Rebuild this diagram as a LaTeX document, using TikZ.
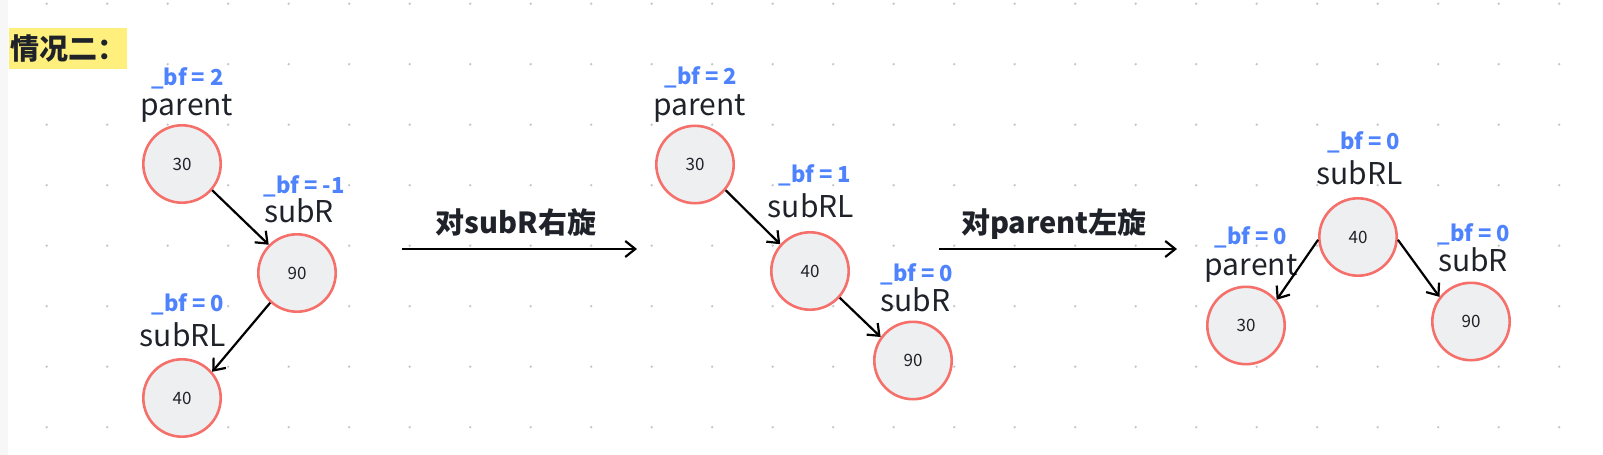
\documentclass[tikz,border=0pt]{standalone}
\usepackage{fontspec}
\setmainfont{Noto Sans CJK SC}
\usepackage{xcolor}
\usepackage{tikz}
\usetikzlibrary{arrows.meta}
\definecolor{inkdark}{HTML}{1F2329}
\definecolor{bfblue}{HTML}{4E83FD}
\definecolor{ringred}{HTML}{F5706A}
\definecolor{ringfill}{HTML}{EEEFF1}
\definecolor{hiyellow}{HTML}{FFF07E}
\definecolor{dotgray}{HTML}{C4C6CC}
\tikzset{
  treenode/.style={circle, draw=ringred, line width=1.3pt, fill=ringfill, minimum size=38.7pt,
    inner sep=0pt, text=inkdark, font=\fontsize{8.5}{10}\selectfont},
  bflabel/.style={anchor=base, inner sep=0pt, text=bfblue, font=\fontsize{11}{13}\selectfont\bfseries},
  namelabel/.style={anchor=base, inner sep=0pt, text=inkdark, font=\fontsize{15}{18}\selectfont},
  rotlabel/.style={anchor=base, inner sep=0pt, text=inkdark, font=\fontsize{14.5}{17}\selectfont\bfseries},
  edge/.style={-{Straight Barb[length=5pt,width=8pt]}, line width=1.1pt, black},
}

\begin{document}
\begin{tikzpicture}[x=0.5pt,y=-0.5pt]
\useasboundingbox (0,0) rectangle (1603,455);
\fill[black!3] (0,0) rectangle (8,455);
\foreach \i in {0,...,25}{
  \foreach \j in {0,...,7}{
    \fill[dotgray] (46.7+60.5*\i,3.7+60.5*\j) circle (0.65pt);
  }
}
\node[fill=hiyellow, inner xsep=0.5pt, inner ysep=0pt, minimum height=20.5pt, anchor=west,
  text=inkdark, font=\fontsize{14.5}{17}\selectfont\bfseries] (title) at (9,48.5) {情况二：};

% before rotation
\node[treenode] (a30) at (182,164) {30};
\node[treenode] (a90) at (297,273) {90};
\node[treenode] (a40) at (182,398) {40};
\node[bflabel] (a30bf) at (187.5,85) {\_bf = 2};
\node[namelabel] (a30name) at (187,115.7) {parent};
\node[bflabel] (a90bf) at (304,193.5) {\_bf = -1};
\node[namelabel] (a90name) at (299,222.7) {subR};
\node[bflabel] (a40bf) at (188,311) {\_bf = 0};
\node[namelabel] (a40name) at (183,346.5) {subRL};
\draw[edge] (a30.-41) -- (a90.135);
\draw[edge] (a90.-132) -- (a40.41);

\coordinate (r1s) at (402,249);
\coordinate (r1e) at (637,249);
\draw[edge] (r1s) -- (r1e);
\node[rotlabel] (r1lab) at (516,233) {对subR右旋};

% after right rotation of subR
\node[treenode] (b30) at (695,164.5) {30};
\node[treenode] (b40) at (810,271) {40};
\node[treenode] (b90) at (913,360.5) {90};
\node[bflabel] (b30bf) at (701,84) {\_bf = 2};
\node[namelabel] (b30name) at (699.5,115) {parent};
\node[bflabel] (b40bf) at (815,182.7) {\_bf = 1};
\node[namelabel] (b40name) at (811,217.7) {subRL};
\node[bflabel] (b90bf) at (916.7,281.7) {\_bf = 0};
\node[namelabel] (b90name) at (915.5,311) {subR};
\draw[edge] (b30.-40) -- (b40.138);
\draw[edge] (b40.-42) -- (b90.144);

\coordinate (r2s) at (939,249);
\coordinate (r2e) at (1177,249);
\draw[edge] (r2s) -- (r2e);
\node[rotlabel] (r2lab) at (1054,233) {对parent左旋};

% after left rotation of parent
\node[treenode] (c40) at (1358,237) {40};
\node[treenode] (c30) at (1246,325.5) {30};
\node[treenode] (c90) at (1471,321.5) {90};
\node[bflabel] (c40bf) at (1364,149) {\_bf = 0};
\node[namelabel] (c40name) at (1359.5,184) {subRL};
\node[bflabel] (c30bf) at (1251,244) {\_bf = 0};
\node[namelabel] (c30name) at (1251,275.7) {parent};
\node[bflabel] (c90bf) at (1474,241.7) {\_bf = 0};
\node[namelabel] (c90name) at (1473,271) {subR};
\draw[edge] (c40.184) -- (c30.40);
\draw[edge] (c40.-4) -- (c90.142);
\end{tikzpicture}
\end{document}
